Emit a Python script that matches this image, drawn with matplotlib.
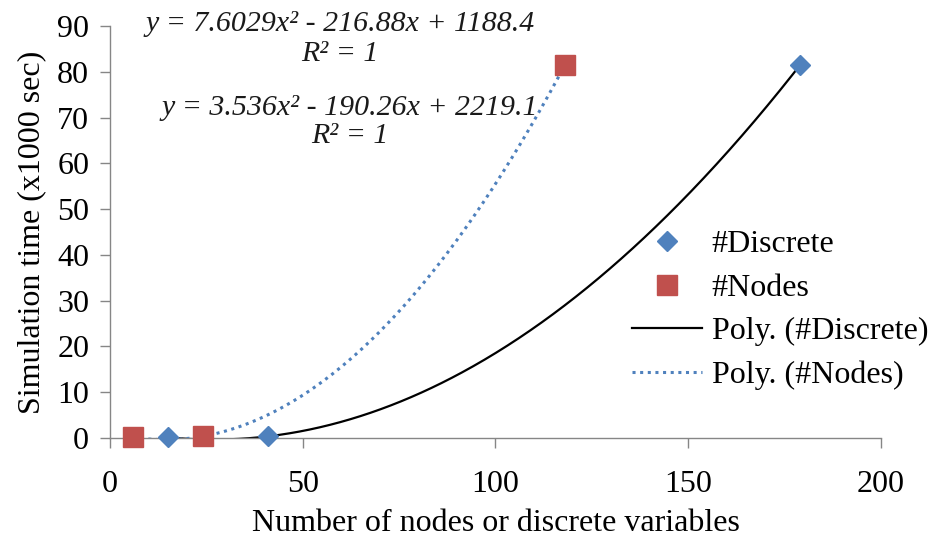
import numpy as np
import matplotlib
matplotlib.use("Agg")
import matplotlib.pyplot as plt
from matplotlib.lines import Line2D

plt.rcParams['font.family'] = ['Liberation Serif', 'DejaVu Serif']

# Problem size (number of discrete variables / nodes) and simulation time (x1000 s)
discrete_x = [15, 41, 179]
nodes_x = [6, 24, 118]
sim_time_k = [0.16, 0.36, 81.46]

# Quadratic trendline coefficients (time in seconds)
coef_discrete = [3.536, -190.26, 2219.1]
coef_nodes = [7.6029, -216.88, 1188.4]

eq_nodes = "y = 7.6029x² - 216.88x + 1188.4"
eq_discrete = "y = 3.536x² - 190.26x + 2219.1"
r2_text = "R² = 1"

blue = "#4F81BD"
red = "#C0504D"
axis_gray = "#868686"
fs = 23
fs_eq = 21.5

fig = plt.figure(figsize=(9.29, 5.38), dpi=100)
ax = fig.add_axes([110 / 929, 1 - 438 / 538, 771 / 929, 412 / 538])

xd = np.linspace(min(discrete_x), max(discrete_x), 500)
xn = np.linspace(min(nodes_x), max(nodes_x), 500)
ax.plot(xd, np.polyval(coef_discrete, xd) / 1000, color="black", lw=1.6, zorder=2)
ax.plot(xn, np.polyval(coef_nodes, xn) / 1000, color=blue, lw=2.2,
        linestyle=(0, (1, 1.5)), zorder=2)

ax.plot(discrete_x, sim_time_k, linestyle="none", marker="D", ms=10.5,
        color=blue, zorder=3, clip_on=False)
ax.plot(nodes_x, sim_time_k, linestyle="none", marker="s", ms=14,
        color=red, zorder=3, clip_on=False)

ax.set_xlim(0, 200)
ax.set_ylim(0, 90)
ax.set_xticks(np.arange(0, 201, 50))
ax.set_yticks(np.arange(0, 91, 10))
for s in ["top", "right"]:
    ax.spines[s].set_visible(False)
for s in ["left", "bottom"]:
    ax.spines[s].set_color(axis_gray)
    ax.spines[s].set_linewidth(1.0)
ax.tick_params(axis="both", direction="out", length=7, width=1.0,
               color=axis_gray, labelsize=fs, labelcolor="black")
ax.tick_params(axis="x", pad=16)
ax.tick_params(axis="y", pad=8)

ax.set_xlabel("Number of nodes or discrete variables", fontsize=fs, labelpad=7)
ax.set_ylabel("Simulation time (x1000 sec)", fontsize=fs, labelpad=8)

# Trendline equations
ax.text(59.7, 90.4, eq_nodes, fontsize=fs_eq, style="italic", ha="center",
        va="center", color="#1a1a1a", clip_on=False)
ax.text(59.7, 83.8, r2_text, fontsize=fs_eq, style="italic", ha="center",
        va="center", color="#1a1a1a", clip_on=False)
ax.text(62.2, 72.0, eq_discrete, fontsize=fs_eq, style="italic", ha="center",
        va="center", color="#1a1a1a", clip_on=False)
ax.text(62.2, 66.0, r2_text, fontsize=fs_eq, style="italic", ha="center",
        va="center", color="#1a1a1a", clip_on=False)

handles = [
    Line2D([], [], linestyle="none", marker="D", ms=10.5, color=blue),
    Line2D([], [], linestyle="none", marker="s", ms=14, color=red),
    Line2D([], [], color="black", lw=1.6),
    Line2D([], [], color=blue, lw=2.2, linestyle=(0, (1, 1.5))),
]
labels = ["#Discrete", "#Nodes", "Poly. (#Discrete)", "Poly. (#Nodes)"]
fig.legend(handles, labels, loc="center left", bbox_to_anchor=(632 / 929, 1 - 310 / 538),
           frameon=False, fontsize=fs, handlelength=2.2, handletextpad=0.3,
           labelspacing=0.45, borderpad=0, borderaxespad=0)

fig.savefig("out.png", dpi=100)
